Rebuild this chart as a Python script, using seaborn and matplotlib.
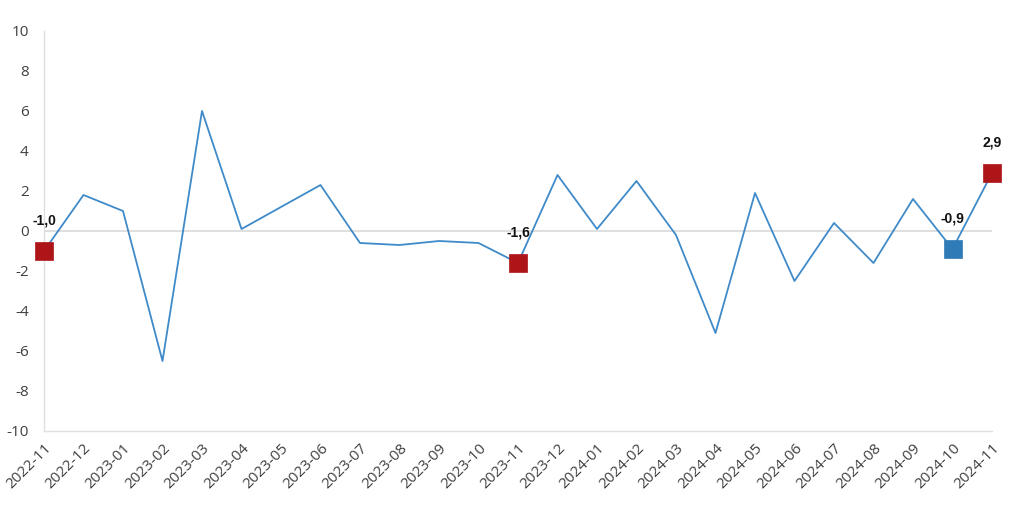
import matplotlib
matplotlib.use("Agg")
import matplotlib.pyplot as plt
import seaborn as sns
import pandas as pd

months = ["2022-11", "2022-12", "2023-01", "2023-02", "2023-03", "2023-04", "2023-05",
          "2023-06", "2023-07", "2023-08", "2023-09", "2023-10", "2023-11", "2023-12",
          "2024-01", "2024-02", "2024-03", "2024-04", "2024-05", "2024-06", "2024-07",
          "2024-08", "2024-09", "2024-10", "2024-11"]
values = [-1.0, 1.8, 1.0, -6.5, 6.0, 0.1, 1.2, 2.3, -0.6, -0.7, -0.5, -0.6, -1.6, 2.8,
          0.1, 2.5, -0.2, -5.1, 1.9, -2.5, 0.4, -1.6, 1.6, -0.9, 2.9]
highlight_months = ["2022-11", "2023-11", "2024-10", "2024-11"]
highlight_colors = ["#ad1519", "#ad1519", "#2f7bb7", "#ad1519"]
highlight_labels = ["-1,0", "-1,6", "-0,9", "2,9"]

sns.set_theme(style="white")
plt.rcParams['font.family'] = ['Open Sans', 'DejaVu Sans']
plt.rcParams['axes.unicode_minus'] = False

df = pd.DataFrame({"x": range(len(months)), "month": months, "value": values})

fig = plt.figure(figsize=(10.24, 5.16), dpi=100)
ax = fig.add_axes([44/1024, 1 - 431/516, (992-44)/1024, 400/516])

ax.axhline(0, color="#d9d9d9", lw=1.2, zorder=1)
sns.lineplot(data=df, x="x", y="value", ax=ax, color="#3f8ac8", lw=1.3, zorder=2)

for m, c, lab in zip(highlight_months, highlight_colors, highlight_labels):
    i = months.index(m)
    sub = df.iloc[[i]]
    sns.scatterplot(data=sub, x="x", y="value", ax=ax, marker="s", s=150,
                    color=c, edgecolor=c, linewidth=0.5, zorder=3, clip_on=False)
    ax.annotate(lab, (i, values[i]), xytext=(0, 22), textcoords="offset points",
                ha="center", va="center", fontsize=10, fontweight="bold",
                family=["Liberation Sans", "DejaVu Sans"], color="#111111")

ax.set_xlim(0, len(months) - 1)
ax.set_ylim(-10, 10)
ax.set_yticks(range(-10, 11, 2))
ax.set_xticks(range(len(months)))
ax.set_xticklabels(months, rotation=45, ha="right", rotation_mode="anchor")
ax.tick_params(axis="both", labelsize=11, colors="#404040", length=0)
ax.tick_params(axis="x", pad=7)
ax.tick_params(axis="y", pad=11)
ax.set_xlabel("")
ax.set_ylabel("")
for s in ["top", "right"]:
    ax.spines[s].set_visible(False)
for s in ["left", "bottom"]:
    ax.spines[s].set_color("#e0e0e0")
    ax.spines[s].set_linewidth(1.0)

fig.savefig("out.png", dpi=100)
